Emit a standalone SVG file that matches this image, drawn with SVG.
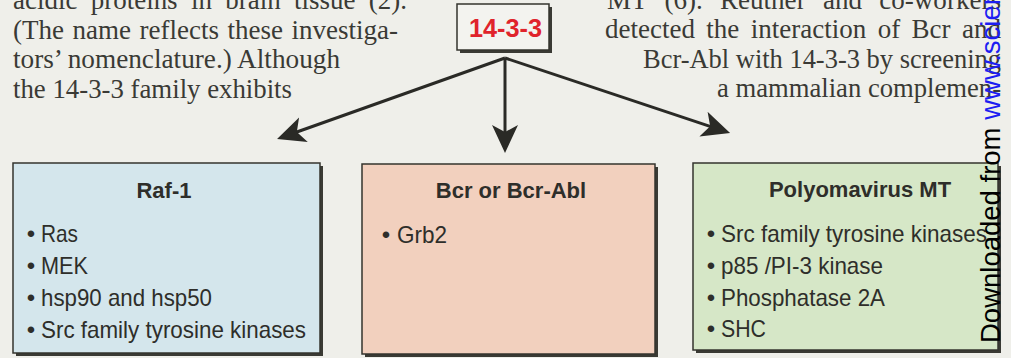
<svg xmlns="http://www.w3.org/2000/svg" width="1011" height="358" viewBox="0 0 1011 358">
<defs>
<style>
.body{font-family:"Liberation Serif","Times New Roman",serif;font-size:27px;fill:#3a3a35}
.title{font-family:"Liberation Sans",Arial,sans-serif;font-size:22px;font-weight:bold;fill:#2e2e2a;text-anchor:middle}
.item{font-family:"Liberation Sans",Arial,sans-serif;font-size:24px;fill:#2e2e2a}
.bul{font-family:"Liberation Sans",Arial,sans-serif;font-size:24px;fill:#2e2e2a;text-anchor:middle}
.shadow{fill:#3a3a34}
.box{stroke:#34342e;stroke-width:1.5}
.conn{stroke:#2a2a26;stroke-width:3;fill:none;marker-end:url(#head)}
.wm{font-family:"Liberation Sans",Arial,sans-serif;font-size:27.5px;fill:#000}
</style>
<marker id="head" markerUnits="userSpaceOnUse" markerWidth="30" markerHeight="28" refX="10" refY="13" orient="auto">
<path d="M0,0 L28,13 L0,26 L7,13 Z" fill="#2a2a26"/>
</marker>
</defs>
<rect x="0" y="0" width="1011" height="358" fill="#efefea"/>

<g id="body-text">
<text class="body" x="13" y="9" word-spacing="6.6" textLength="394" lengthAdjust="spacingAndGlyphs">acidic proteins in brain tissue (2).</text>
<text class="body" x="13" y="38.5" word-spacing="1.8" textLength="385" lengthAdjust="spacingAndGlyphs">(The name reflects these investiga-</text>
<text class="body" x="13" y="68" textLength="327" lengthAdjust="spacingAndGlyphs">tors’ nomenclature.) Although</text>
<text class="body" x="13" y="97.5" textLength="279" lengthAdjust="spacingAndGlyphs">the 14-3-3 family exhibits</text>
<text class="body" x="607" y="9" word-spacing="10.5" textLength="394" lengthAdjust="spacingAndGlyphs">MT (6). Reuther and co-workers</text>
<text class="body" x="605" y="38" word-spacing="4.7" textLength="396" lengthAdjust="spacingAndGlyphs">detected the interaction of Bcr and</text>
<text class="body" x="643" y="67.5" textLength="358" lengthAdjust="spacingAndGlyphs">Bcr-Abl with 14-3-3 by screening</text>
<text class="body" x="717" y="97" textLength="284" lengthAdjust="spacingAndGlyphs">a mammalian complemen-</text>
</g>

<g id="connectors">
<line class="conn" x1="505" y1="58" x2="294" y2="133"/>
<line class="conn" x1="505" y1="58" x2="505" y2="135"/>
<line class="conn" x1="505" y1="58" x2="713" y2="127.3"/>
</g>

<g id="node-14-3-3">
<rect class="shadow" x="460" y="7" width="92" height="46"/>
<rect class="box" x="457" y="4" width="92" height="46" fill="#f3f3ef"/>
<text x="505.5" y="37" font-family="'Liberation Sans',Arial,sans-serif" font-size="26" font-weight="bold" fill="#e0232b" text-anchor="middle" textLength="73" lengthAdjust="spacingAndGlyphs">14-3-3</text>
</g>

<g id="node-raf1">
<rect class="shadow" x="16" y="166" width="307" height="190"/>
<rect class="box" x="13" y="163" width="307" height="190" fill="#d4e6ec"/>
<text class="title" x="164" y="198">Raf-1</text>
<text class="bul" x="31" y="242">•</text><text class="item" x="41" y="242" textLength="37" lengthAdjust="spacingAndGlyphs">Ras</text>
<text class="bul" x="31" y="274">•</text><text class="item" x="41" y="274" textLength="47" lengthAdjust="spacingAndGlyphs">MEK</text>
<text class="bul" x="31" y="306">•</text><text class="item" x="41" y="306" textLength="171" lengthAdjust="spacingAndGlyphs">hsp90 and hsp50</text>
<text class="bul" x="31" y="338">•</text><text class="item" x="41" y="338" textLength="265" lengthAdjust="spacingAndGlyphs">Src family tyrosine kinases</text>
</g>

<g id="node-bcr">
<rect class="shadow" x="365" y="167" width="293" height="190"/>
<rect class="box" x="362" y="164" width="293" height="190" fill="#f2d0be"/>
<text class="title" x="511" y="198">Bcr or Bcr-Abl</text>
<text class="bul" x="386" y="243">•</text><text class="item" x="397" y="243" textLength="50" lengthAdjust="spacingAndGlyphs">Grb2</text>
</g>

<g id="node-polyoma">
<rect class="shadow" x="696" y="166" width="305" height="187"/>
<rect class="box" x="693" y="163" width="305" height="187" fill="#d6e7c7"/>
<text class="title" x="860" y="197">Polyomavirus MT</text>
<text class="bul" x="711" y="242">•</text><text class="item" x="721" y="242" textLength="266" lengthAdjust="spacingAndGlyphs">Src family tyrosine kinases</text>
<text class="bul" x="711" y="274">•</text><text class="item" x="721" y="274" textLength="162" lengthAdjust="spacingAndGlyphs">p85 /PI-3 kinase</text>
<text class="bul" x="711" y="306">•</text><text class="item" x="721" y="306" textLength="164" lengthAdjust="spacingAndGlyphs">Phosphatase 2A</text>
<text class="bul" x="711" y="337">•</text><text class="item" x="721" y="337" textLength="45" lengthAdjust="spacingAndGlyphs">SHC</text>
</g>

<g id="watermark">
<text class="wm" transform="translate(1000,343) rotate(-90)">Downloaded from <tspan fill="#1d1df2">www.scien</tspan></text>
</g>
</svg>
